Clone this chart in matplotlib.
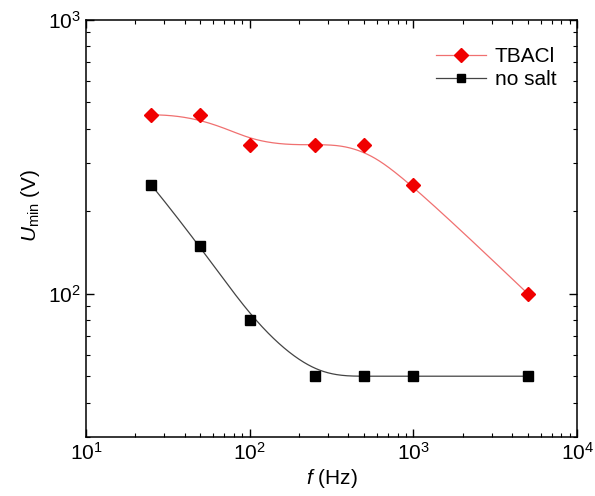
import numpy as np
import matplotlib
matplotlib.use('Agg')
import matplotlib.pyplot as plt

plt.rcParams['font.family'] = ['Liberation Sans', 'DejaVu Sans']
plt.rcParams['mathtext.fontset'] = 'custom'
plt.rcParams['mathtext.rm'] = 'Liberation Sans'
plt.rcParams['mathtext.it'] = 'Liberation Sans:italic'

# Data
freq = [25, 50, 100, 250, 500, 1000, 5000]
u_tbacl = [450, 450, 350, 350, 350, 250, 100]
u_nosalt = [250, 150, 80, 50, 50, 50, 50]


def bspline_loglog(x, y, k=3, n_pts=400):
    # clamped uniform B-spline, data points used as control points (log-log space)
    P = np.column_stack([np.log10(x), np.log10(y)])
    n = len(P)
    knots = np.concatenate([np.zeros(k), np.arange(n - k + 1), np.full(k, n - k)]).astype(float)
    u = np.linspace(0, n - k, n_pts)
    u[-1] -= 1e-9

    def basis(i, p, t):
        if p == 0:
            return ((knots[i] <= t) & (t < knots[i + 1])).astype(float)
        out = np.zeros_like(t)
        d1 = knots[i + p] - knots[i]
        d2 = knots[i + p + 1] - knots[i + 1]
        if d1 > 0:
            out += (t - knots[i]) / d1 * basis(i, p - 1, t)
        if d2 > 0:
            out += (knots[i + p + 1] - t) / d2 * basis(i + 1, p - 1, t)
        return out

    B = np.column_stack([basis(i, k, u) for i in range(n)])
    C = B @ P
    return 10 ** C[:, 0], 10 ** C[:, 1]


xs_r, ys_r = bspline_loglog(freq, u_tbacl)
xs_k, ys_k = bspline_loglog(freq, u_nosalt)

fig = plt.figure(figsize=(5.95, 4.96), dpi=100)
ax = fig.add_axes([0.1445, 0.119, 0.8255, 0.841])

red_line = '#f07070'
red_mark = '#f00000'
ax.plot(xs_r, ys_r, color=red_line, lw=0.9)
ax.plot(xs_k, ys_k, color='#444444', lw=0.9)
ax.plot(freq, u_tbacl, 'D', color=red_mark, ms=7, ls='none')
ax.plot(freq, u_nosalt, 's', color='black', ms=6.5, ls='none')

# legend proxies
ax.plot([], [], color=red_line, lw=0.9, marker='D', mfc=red_mark, mec=red_mark, ms=7, label='TBACl')
ax.plot([], [], color='#444444', lw=0.9, marker='s', mfc='black', mec='black', ms=6, label='no salt')

ax.set_xscale('log')
ax.set_yscale('log')
ax.set_xlim(10, 1e4)
ax.set_ylim(30, 1000)

ax.set_xlabel(r'$f$ (Hz)', fontsize=15, labelpad=2)
ax.set_ylabel(r'$U_{\rm min}$ (V)', fontsize=15)
ax.yaxis.set_label_coords(-0.09, 0.556)

ax.tick_params(which='both', direction='in', top=True, right=True, labelsize=15)
ax.tick_params(which='major', length=6, width=1)
ax.tick_params(which='minor', length=3, width=0.8)
for s in ax.spines.values():
    s.set_linewidth(1.1)

ax.legend(loc='upper right', frameon=False, fontsize=15, handlelength=2.4,
          handletextpad=0.4, labelspacing=0.2, borderaxespad=0.6,
          bbox_to_anchor=(1.0, 0.985))

fig.savefig('out.png', dpi=100)
